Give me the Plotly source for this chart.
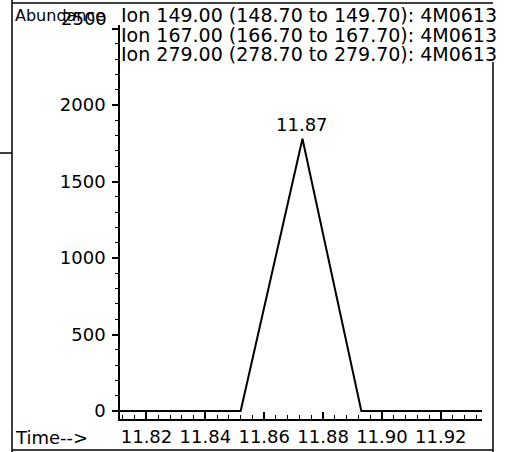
import plotly.graph_objects as go

# scan data
times = [11.811, 11.8315, 11.852, 11.873, 11.893, 11.9135, 11.934]
abundance = [0, 0, 0, 1780, 0, 0, 0]
peak_time = 11.873
peak_label = "11.87"

ion_lines = [
    "Ion 149.00 (148.70 to 149.70): 4M0613",
    "Ion 167.00 (166.70 to 167.70): 4M0613",
    "Ion 279.00 (278.70 to 279.70): 4M0613",
]
y_ticks = [0, 500, 1000, 1500, 2000, 2500]
y_ticktext = ["0", "500", "1000", "1500", "2000", ""]
x_ticks = [11.82, 11.84, 11.86, 11.88, 11.90, 11.92]

W, H = 510, 452
L, R, T, B = 120, 28, 25, 33
FONT = "DejaVu Sans"


def px(x):
    return (x - L) / (W - L - R)


def py(y):
    return (H - B - y) / (H - T - B)


fig = go.Figure()
fig.add_trace(go.Scatter(x=times, y=abundance, mode="lines",
                         line=dict(color="black", width=2), hoverinfo="skip"))

fig.update_xaxes(range=[11.811, 11.934], showline=True, linecolor="black", linewidth=2,
                 showgrid=False, zeroline=False, ticks="inside", ticklen=7, tickwidth=1.5,
                 tickcolor="black", tickvals=x_ticks, tickformat=".2f",
                 tickfont=dict(family=FONT, size=18, color="black"),
                 minor=dict(dtick=0.004, tick0=11.82, ticks="inside", ticklen=4,
                            tickcolor="black", tickwidth=1.2))
fig.update_yaxes(range=[-52, 2523], showline=True, linecolor="black", linewidth=1.5,
                 showgrid=False, zeroline=False, ticks="outside", ticklen=6, tickwidth=1.5,
                 tickcolor="black", tickvals=y_ticks, ticktext=y_ticktext,
                 ticklabelstandoff=3,
                 tickfont=dict(family=FONT, size=18, color="black"),
                 minor=dict(dtick=100, ticks="outside", ticklen=3,
                            tickcolor="black", tickwidth=1))

ann = [
    dict(x=peak_time, y=abundance[3], xref="x", yref="y", text=peak_label,
         showarrow=False, yanchor="bottom", yshift=2, font=dict(size=18)),
    dict(x=px(109), y=2500, xref="paper", yref="y", text="2500", showarrow=False,
         xanchor="right", yshift=10, font=dict(size=18)),
    dict(x=px(13), y=py(15), xref="paper", yref="paper", text="Abundance",
         showarrow=False, xanchor="left", yanchor="middle", font=dict(size=16)),
    dict(x=px(13), y=py(437), xref="paper", yref="paper", text="Time-->",
         showarrow=False, xanchor="left", yanchor="middle", font=dict(size=18)),
]
for i, txt in enumerate(ion_lines):
    ann.append(dict(x=px(119), y=py(15 + 19.5 * i), xref="paper", yref="paper", text=txt,
                    showarrow=False, xanchor="left", yanchor="middle", font=dict(size=19)))

frame = [
    (12, 0, 12, 452), (493, 62, 493, 452), (12, 450, 493, 450),
    (12, 3, 493, 3), (0, 153, 12, 153),
]
shapes = [dict(type="line", xref="paper", yref="paper", x0=px(a), y0=py(b), x1=px(c), y1=py(d),
               line=dict(color="black", width=1.5)) for a, b, c, d in frame]

fig.update_layout(width=W, height=H, margin=dict(l=L, r=R, t=T, b=B, autoexpand=False),
                  plot_bgcolor="white", paper_bgcolor="white", showlegend=False,
                  font=dict(family=FONT, color="black"),
                  annotations=ann, shapes=shapes)
fig.write_html("out.html", config={"displayModeBar": False},
               post_script="document.body.style.margin='0';")
